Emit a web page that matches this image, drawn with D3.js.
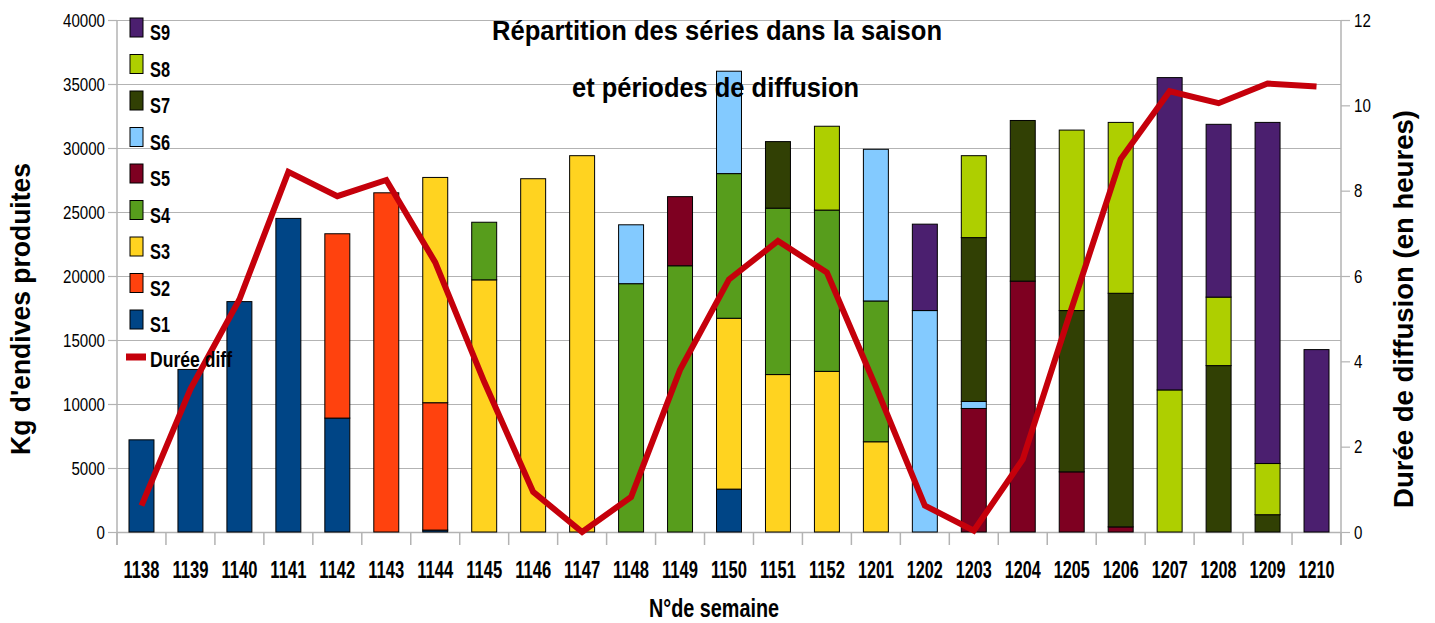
<!DOCTYPE html>
<html>
<head>
<meta charset="utf-8">
<script src="https://cdn.jsdelivr.net/npm/d3@7"></script>
<style>
  body { margin: 0; background: #fff; }
  svg { display: block; }
  text { font-family: "Liberation Sans Narrow", "Arial Narrow", "Liberation Sans", sans-serif; fill: #000; }
</style>
</head>
<body>
<div id="chart"></div>
<script>
const weeks = ['1138', '1139', '1140', '1141', '1142', '1143', '1144', '1145', '1146', '1147', '1148', '1149',
  '1150', '1151', '1152', '1201', '1202', '1203', '1204', '1205', '1206', '1207', '1208', '1209', '1210'];

const seriesNames = ['S1', 'S2', 'S3', 'S4', 'S5', 'S6', 'S7', 'S8', 'S9'];
//            1138  1139  1140  1141  1142  1143  1144  1145  1146  1147  1148  1149  1150  1151  1152  1201  1202  1203  1204  1205  1206  1207  1208  1209  1210
const s1 = [7200, 12700, 18000, 24500, 8900, 0, 150, 0, 0, 0, 0, 0, 3350, 0, 0, 0, 0, 0, 0, 0, 0, 0, 0, 0, 0];
const s2 = [0, 0, 0, 0, 14400, 26500, 9950, 0, 0, 0, 0, 0, 0, 0, 0, 0, 0, 0, 0, 0, 0, 0, 0, 0, 0];
const s3 = [0, 0, 0, 0, 0, 0, 17600, 19700, 27600, 29400, 0, 0, 13350, 12300, 12550, 7050, 0, 0, 0, 0, 0, 0, 0, 0, 0];
const s4 = [0, 0, 0, 0, 0, 0, 0, 4500, 0, 0, 19400, 20800, 11300, 13000, 12600, 11000, 0, 0, 0, 0, 0, 0, 0, 0, 0];
const s5 = [0, 0, 0, 0, 0, 0, 0, 0, 0, 0, 0, 5400, 0, 0, 0, 0, 0, 9650, 19600, 4700, 400, 0, 0, 0, 0];
const s6 = [0, 0, 0, 0, 0, 0, 0, 0, 0, 0, 4600, 0, 8000, 0, 0, 11850, 17300, 550, 0, 0, 0, 0, 0, 0, 0];
const s7 = [0, 0, 0, 0, 0, 0, 0, 0, 0, 0, 0, 0, 0, 5200, 0, 0, 0, 12800, 12550, 12600, 18250, 0, 13000, 1350, 0];
const s8 = [0, 0, 0, 0, 0, 0, 0, 0, 0, 0, 0, 0, 0, 0, 6550, 0, 0, 6400, 0, 14100, 13350, 11100, 5350, 4000, 0];
const s9 = [0, 0, 0, 0, 0, 0, 0, 0, 0, 0, 0, 0, 0, 0, 0, 0, 6750, 0, 0, 0, 0, 24400, 13500, 26650, 14250];

// durée de diffusion (heures)
const duree = [0.62, 3.35, 5.45, 8.44, 7.87, 8.25, 6.32, 3.52, 0.94, 0, 0.82, 3.8, 5.92, 6.82, 6.08, 3.4,
  0.62, 0.03, 1.7, 5.25, 8.74, 10.33, 10.05, 10.51, 10.44];

const leftTicks = [0, 5000, 10000, 15000, 20000, 25000, 30000, 35000, 40000];
const rightTicks = [0, 2, 4, 6, 8, 10, 12];

const colors = {
  S1: '#004586',
  S2: '#ff420e',
  S3: '#ffd320',
  S4: '#579d1c',
  S5: '#7e0021',
  S6: '#83caff',
  S7: '#314004',
  S8: '#aecf00',
  S9: '#4b1f6f',
};
const lineColor = '#c5000b';
const gridColor = '#b3b3b3';

const size = { width: 1435, height: 623 };
const plot = { left: 117, right: 1341, top: 20, bottom: 532 };

// the original font is condensed, no narrow font here so squeeze the glyphs
const fit = (sel, len) => sel.attr('textLength', len).attr('lengthAdjust', 'spacingAndGlyphs');

const rows = weeks.map((w, i) => {
  const r = { week: w };
  [s1, s2, s3, s4, s5, s6, s7, s8, s9].forEach((s, k) => { r[seriesNames[k]] = s[i]; });
  return r;
});
const stacked = d3.stack().keys(seriesNames)(rows);

const svg = d3.select('#chart').append('svg')
  .attr('width', size.width)
  .attr('height', size.height);

const x = d3.scaleBand()
  .domain(weeks)
  .range([plot.left, plot.right])
  .paddingInner(0.49)
  .paddingOuter(0.245);
const y = d3.scaleLinear().domain([0, 40000]).range([plot.bottom, plot.top]);
const yR = d3.scaleLinear().domain([0, 12]).range([plot.bottom, plot.top]);

// grid
svg.append('g')
  .selectAll('line')
  .data(leftTicks.filter((t) => t > 0))
  .enter()
  .append('line')
  .attr('x1', plot.left)
  .attr('x2', plot.right)
  .attr('y1', (d) => Math.round(y(d)) + 0.5)
  .attr('y2', (d) => Math.round(y(d)) + 0.5)
  .attr('stroke', gridColor)
  .attr('stroke-width', 1.2);

// left axis
const leftAxis = svg.append('g')
  .attr('transform', `translate(${plot.left},0)`)
  .call(d3.axisLeft(y).tickValues(leftTicks).tickSize(9).tickPadding(3).tickFormat((d) => d));
leftAxis.select('.domain').attr('stroke', gridColor).attr('stroke-width', 1.5)
  .attr('d', `M0,${plot.top}V${plot.bottom + 13}`);
leftAxis.selectAll('.tick line').attr('stroke', gridColor).attr('stroke-width', 1.2);
leftAxis.selectAll('.tick text')
  .style('font-size', '19px')
  .attr('fill', '#000')
  .each(function (d) { fit(d3.select(this), String(d).length * 8.4); });

// right axis
const rightAxis = svg.append('g')
  .attr('transform', `translate(${plot.right},0)`)
  .call(d3.axisRight(yR).tickValues(rightTicks).tickSize(9).tickPadding(4));
rightAxis.select('.domain').attr('stroke', gridColor).attr('stroke-width', 1.5)
  .attr('d', `M0,${plot.top}V${plot.bottom + 13}`);
rightAxis.selectAll('.tick line').attr('stroke', gridColor).attr('stroke-width', 1.2);
rightAxis.selectAll('.tick text')
  .style('font-size', '19px')
  .attr('fill', '#000')
  .each(function (d) { fit(d3.select(this), String(d).length * 8.4); });

// bottom axis line + ticks between categories
svg.append('line')
  .attr('x1', plot.left).attr('x2', plot.right)
  .attr('y1', plot.bottom + 0.5).attr('y2', plot.bottom + 0.5)
  .attr('stroke', gridColor).attr('stroke-width', 1.5);
svg.append('g')
  .selectAll('line')
  .data(d3.range(weeks.length + 1))
  .enter()
  .append('line')
  .attr('x1', (i) => plot.left + i * x.step())
  .attr('x2', (i) => plot.left + i * x.step())
  .attr('y1', plot.bottom)
  .attr('y2', plot.bottom + 13)
  .attr('stroke', gridColor)
  .attr('stroke-width', 1.5);

svg.append('g')
  .selectAll('text')
  .data(weeks)
  .enter()
  .append('text')
  .attr('x', (d) => x(d) + x.bandwidth() / 2 - 18)
  .attr('y', 578)
  .style('font-size', '23.5px')
  .style('font-weight', 'bold')
  .text((d) => d)
  .call(fit, 36);

// bars
svg.append('g')
  .selectAll('g')
  .data(stacked)
  .enter()
  .append('g')
  .attr('fill', (d) => colors[d.key])
  .selectAll('rect')
  .data((d) => d.filter((p) => p[1] - p[0] > 0))
  .enter()
  .append('rect')
  .attr('x', (d) => x(d.data.week))
  .attr('width', x.bandwidth())
  .attr('y', (d) => y(d[1]))
  .attr('height', (d) => y(d[0]) - y(d[1]))
  .attr('stroke', '#000')
  .attr('stroke-width', 1);

// line
const line = d3.line()
  .x((d, i) => x(weeks[i]) + x.bandwidth() / 2)
  .y((d) => yR(d));
svg.append('path')
  .datum(duree)
  .attr('d', line)
  .attr('fill', 'none')
  .attr('stroke', lineColor)
  .attr('stroke-width', 6)
  .attr('stroke-linejoin', 'miter');

// legend
const legend = svg.append('g');
seriesNames.slice().reverse().forEach((name, i) => {
  const top = 18 + i * 36.5;
  legend.append('rect')
    .attr('x', 130).attr('y', top)
    .attr('width', 13).attr('height', 19)
    .attr('fill', colors[name])
    .attr('stroke', '#000')
    .attr('stroke-width', 1);
  legend.append('text')
    .attr('x', 150).attr('y', top + 22)
    .style('font-size', '22px')
    .style('font-weight', 'bold')
    .text(name)
    .call(fit, 20);
});
legend.append('line')
  .attr('x1', 126).attr('x2', 146)
  .attr('y1', 357).attr('y2', 357)
  .attr('stroke', lineColor)
  .attr('stroke-width', 7);
legend.append('text')
  .attr('x', 150).attr('y', 367)
  .style('font-size', '22px')
  .style('font-weight', 'bold')
  .text('Durée diff')
  .call(fit, 82);

// titles
svg.append('text')
  .attr('x', 492).attr('y', 40)
  .style('font-size', '27px')
  .style('font-weight', 'bold')
  .text('Répartition des séries dans la saison')
  .call(fit, 450);
svg.append('text')
  .attr('x', 572).attr('y', 97)
  .style('font-size', '27px')
  .style('font-weight', 'bold')
  .text('et périodes de diffusion')
  .call(fit, 287);

svg.append('text')
  .attr('x', 649).attr('y', 617)
  .style('font-size', '25px')
  .style('font-weight', 'bold')
  .text('N°de semaine')
  .call(fit, 130);

svg.append('text')
  .attr('transform', 'translate(30,455) rotate(-90)')
  .style('font-size', '27px')
  .style('font-weight', 'bold')
  .text("Kg d'endives produites")
  .call(fit, 292);

svg.append('text')
  .attr('transform', 'translate(1413,508) rotate(-90)')
  .style('font-size', '27px')
  .style('font-weight', 'bold')
  .text('Durée de diffusion (en heures)')
  .call(fit, 398);
</script>
</body>
</html>
